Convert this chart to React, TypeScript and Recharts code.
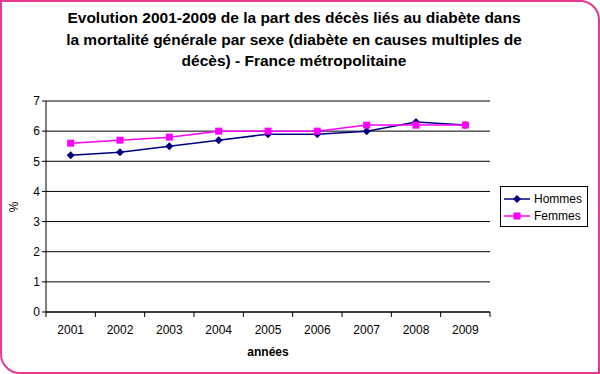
import { CartesianGrid, Line, LineChart, XAxis, YAxis } from "recharts";

const years = ["2001", "2002", "2003", "2004", "2005", "2006", "2007", "2008", "2009"];
const hommes = [5.2, 5.3, 5.5, 5.7, 5.9, 5.9, 6.0, 6.3, 6.2];
const femmes = [5.6, 5.7, 5.8, 6.0, 6.0, 6.0, 6.2, 6.2, 6.2];
const yTicks = [0, 1, 2, 3, 4, 5, 6, 7];

const data = years.map((y, i) => ({ year: y, Hommes: hommes[i], Femmes: femmes[i] }));

const NAVY = "#000080";
const MAGENTA = "#ff00ff";
const FONT = "Arial, 'Liberation Sans', sans-serif";

const W = 600;
const H = 374;
const M = { top: 101, right: 110, bottom: 32, left: 16 };
const Y_W = 30;
const X_H = 30;
const BAND = (W - M.left - M.right - Y_W) / years.length;

function Diamond({ cx, cy }: any) {
  const r = 4;
  return <polygon points={`${cx},${cy - r} ${cx + r},${cy} ${cx},${cy + r} ${cx - r},${cy}`} fill={NAVY} />;
}

function Square({ cx, cy }: any) {
  return <rect x={cx - 3.5} y={cy - 3.5} width={7} height={7} fill={MAGENTA} />;
}

function YearTick({ x, y, payload, index }: any) {
  const last = index === years.length - 1;
  return (
    <g>
      <line x1={x - BAND / 2} x2={x - BAND / 2} y1={y - 8} y2={y - 3} stroke="#000" />
      {last && <line x1={x + BAND / 2} x2={x + BAND / 2} y1={y - 8} y2={y - 3} stroke="#000" />}
      <text x={x} y={y + 14} textAnchor="middle" fontSize={12} fontFamily={FONT} fill="#000">
        {payload.value}
      </text>
    </g>
  );
}

function LegendBox() {
  const rows = [
    { name: "Hommes", color: NAVY, shape: "d" },
    { name: "Femmes", color: MAGENTA, shape: "s" },
  ];
  return (
    <div
      style={{
        position: "absolute", left: 500, top: 186, border: "1px solid #000", width: 88, height: 41,
        boxSizing: "border-box", paddingTop: 3, background: "#fff",
      }}
    >
      {rows.map((r) => (
        <div key={r.name} style={{ display: "flex", alignItems: "center", height: 17, fontFamily: FONT, fontSize: 12 }}>
          <svg width={30} height={10} style={{ marginLeft: 3 }}>
            <line x1={0} x2={26} y1={5} y2={5} stroke={r.color} strokeWidth={1.5} />
            {r.shape === "d" ? (
              <polygon points="13,1 17,5 13,9 9,5" fill={r.color} />
            ) : (
              <rect x={9.5} y={1.5} width={7} height={7} fill={r.color} />
            )}
          </svg>
          <span>{r.name}</span>
        </div>
      ))}
    </div>
  );
}

export default function App() {
  return (
    <div style={{ position: "absolute", left: 0, top: 0, width: W, height: H, background: "#fff" }}>
      <div
        style={{
          position: "absolute", left: 0, top: 0, width: W, height: H, boxSizing: "border-box",
          border: "2px solid #e8388e", borderRadius: "0 20px 0 20px",
        }}
      />
      <div
        style={{
          position: "absolute", left: 0, top: 7, width: 588, textAlign: "center",
          fontFamily: FONT, fontWeight: "bold", fontSize: 15.5, lineHeight: "21.5px", color: "#000",
        }}
      >
        Evolution 2001-2009 de la part des décès liés au diabète dans<br />
        la mortalité générale par sexe (diabète en causes multiples de<br />
        décès) - France métropolitaine
      </div>
      <div
        style={{
          position: "absolute", left: 14, top: 207, transform: "translate(-50%, -50%) rotate(-90deg)",
          fontFamily: FONT, fontSize: 12,
        }}
      >
        %
      </div>
      <div
        style={{
          position: "absolute", left: 268, top: 352, transform: "translate(-50%, -50%)",
          fontFamily: FONT, fontSize: 12, fontWeight: "bold",
        }}
      >
        années
      </div>
      <LineChart width={W} height={H} data={data} margin={M} style={{ position: "absolute", left: 0, top: 0 }}>
        <CartesianGrid vertical={false} stroke="#000" strokeWidth={1} />
        <XAxis
          dataKey="year"
          height={X_H}
          axisLine={{ stroke: "#000" }}
          tickLine={false}
          tick={<YearTick />}
          interval={0}
          padding={{ left: BAND / 2, right: BAND / 2 }}
        />
        <YAxis
          width={Y_W}
          domain={[0, 7]}
          ticks={yTicks}
          axisLine={{ stroke: "#000" }}
          tickLine={{ stroke: "#000" }}
          tickSize={4}
          tick={{ fill: "#000", fontSize: 12, fontFamily: FONT }}
        />
        <Line
          dataKey="Hommes"
          stroke={NAVY}
          strokeWidth={1.5}
          dot={<Diamond />}
          activeDot={false}
          isAnimationActive={false}
        />
        <Line
          dataKey="Femmes"
          stroke={MAGENTA}
          strokeWidth={1.5}
          dot={<Square />}
          activeDot={false}
          isAnimationActive={false}
        />
      </LineChart>
      <LegendBox />
    </div>
  );
}
